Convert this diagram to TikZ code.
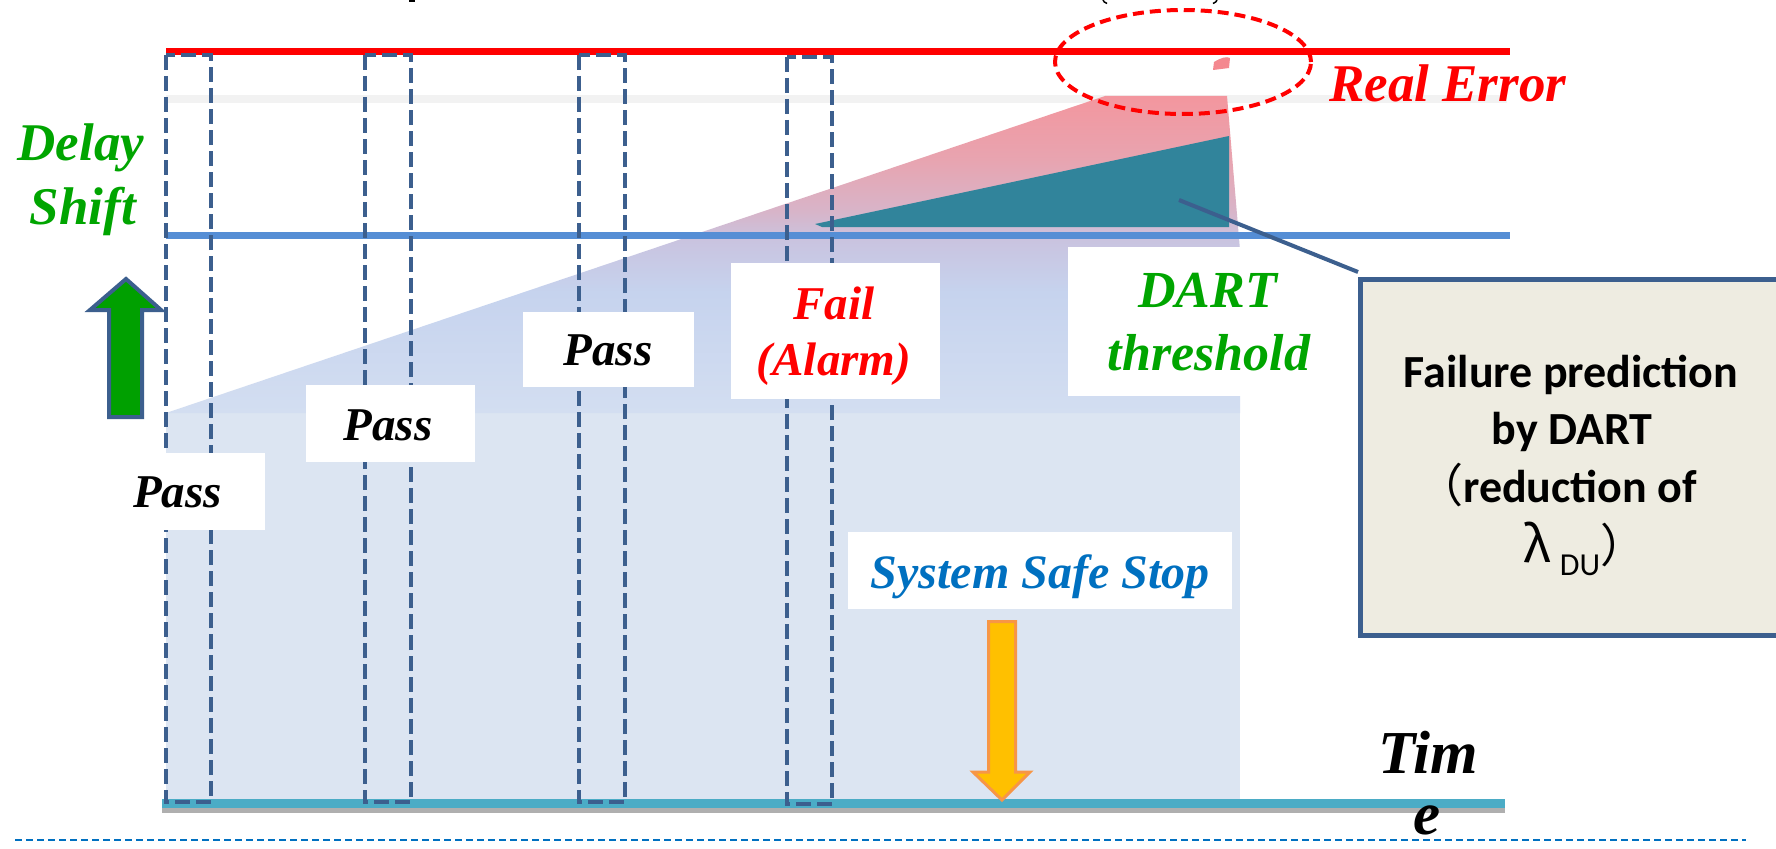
\documentclass[tikz,border=0pt]{standalone}
\usepackage{fontspec}
\setmainfont{Liberation Serif}
\newfontfamily\calfont{Carlito}
\newfontfamily\cjkfont{Noto Sans CJK JP}
\usetikzlibrary{calc}
\definecolor{redline}{RGB}{255,0,0}
\definecolor{greyband}{RGB}{242,242,242}
\definecolor{thrblue}{RGB}{85,142,213}
\definecolor{axisteal}{RGB}{75,172,198}
\definecolor{axisgrey}{RGB}{175,175,175}
\definecolor{dashblue}{RGB}{60,95,142}
\definecolor{txtgreen}{RGB}{0,165,0}
\definecolor{arrgreen}{RGB}{0,160,0}
\definecolor{sssblue}{RGB}{0,112,192}
\definecolor{orfill}{RGB}{255,192,0}
\definecolor{orborder}{RGB}{247,150,70}
\definecolor{boxfill}{RGB}{238,236,225}
\definecolor{tealtri}{RGB}{49,132,155}
\definecolor{lowreg}{RGB}{220,229,242}
\definecolor{pinkblob}{RGB}{244,136,143}
\pgfdeclareverticalshading{wedgeshade}{100bp}{
  color(0bp)=(rgb,255:red,211;green,222;blue,241);
  color(25bp)=(rgb,255:red,211;green,222;blue,241);
  color(44bp)=(rgb,255:red,198;green,211;blue,238);
  color(52bp)=(rgb,255:red,201;green,196;blue,224);
  color(57bp)=(rgb,255:red,216;green,180;blue,200);
  color(65bp)=(rgb,255:red,232;green,164;blue,176);
  color(75bp)=(rgb,255:red,243;green,150;blue,158);
  color(100bp)=(rgb,255:red,243;green,150;blue,158)}
\tikzset{
  lbl/.style={font=\bfseries\itshape\fontsize{47}{56}\selectfont, inner sep=0pt, anchor=base},
  wbox/.style={fill=white, draw=none, inner sep=0pt, outer sep=0pt},
  dbox/.style={draw=dashblue, line width=4pt, dash pattern=on 15pt off 6pt},
  hline/.style={line width=7pt},
  boxtxt/.style={font=\calfont\bfseries\fontsize{46}{56}\selectfont, inner sep=0pt},
  conn/.style={draw=dashblue, line width=4pt},
}
\begin{document}
\begin{tikzpicture}[x=1pt,y=-1pt]
\useasboundingbox (0,0) rectangle (1776,848);
\clip (0,0) rectangle (1776,848);
\fill[white] (0,0) rectangle (1776,848);

% cut-off title fragments
\fill[black] (409,0) rectangle (415,2.5);
\draw[black, line width=1.5pt] (1103,0) .. controls (1104,2) .. (1107,3.5);
\draw[black, line width=1.5pt] (1217,0) .. controls (1216,2) .. (1213,3.5);

% grey band
\draw[greyband, line width=8pt] (166,99) -- (1507,99);

% background regions
\fill[lowreg] (166,413) rectangle (1240,800);
\shade[shading=wedgeshade]
  (166,413) -- (1105,96) -- (1227,96) -- (1240,250) -- (1240,413) -- cycle;

% DART prediction triangle
\fill[tealtri] (815,224) -- (1229,136) -- (1229,227) -- (822,227) -- cycle;
\coordinate (tealpt) at (1179,200);
% small blob
\fill[pinkblob] (1213,70) -- (1214,62) .. controls (1220,58) and (1227,56) .. (1230,58) -- (1229,68) -- cycle;

% horizontal lines
\draw[redline, hline] (166,51.5) -- (1510,51.5);
\draw[thrblue, hline] (166,235.5) -- (1510,235.5);
\draw[axisgrey, line width=5pt] (162,810.5) -- (1505,810.5);
\draw[axisteal, line width=9pt] (162,803.5) -- (1505,803.5);
\draw[sssblue, line width=2.5pt, dash pattern=on 7pt off 4pt] (15,840) -- (1746,840);

% dashed test windows
\draw[dbox] (166,55) rectangle (211,802);
\draw[dbox] (365,55) rectangle (411,802);
\draw[dbox] (579,55) rectangle (625,802);
\draw[dbox] (787,57) rectangle (832,804);

% white label boxes
\node[wbox, minimum width=175pt, minimum height=77pt] (pass1) at (177.5,491.5) {};
\node[wbox, minimum width=169pt, minimum height=77pt] (pass2) at (390.5,423.5) {};
\node[wbox, minimum width=171pt, minimum height=75pt] (pass3) at (608.5,349) {};
\node[wbox, minimum width=209pt, minimum height=136pt] (fail) at (835.5,331) {};
\node[wbox, minimum width=282pt, minimum height=149pt] (dart) at (1209,321.5) {};
\node[wbox, minimum width=384pt, minimum height=77pt] (sss) at (1040,570.5) {};

% labels
\node[lbl] (t-pass1) at (177.5,507) {Pass};
\node[lbl] (t-pass2) at (388,440) {Pass};
\node[lbl] (t-pass3) at (608,365) {Pass};
\node[lbl, text=redline] (t-fail1) at (834,319) {Fail};
\node[lbl, text=redline] (t-fail2) at (834,375) {(Alarm)};
\node[lbl, text=txtgreen, font=\bfseries\itshape\fontsize{52}{60}\selectfont] (t-dart1) at (1207.5,307) {DART};
\node[lbl, text=txtgreen, font=\bfseries\itshape\fontsize{52}{60}\selectfont] (t-dart2) at (1209,370) {threshold};
\node[lbl, text=sssblue, font=\bfseries\itshape\fontsize{48}{56}\selectfont] (t-sss) at (1040,588) {System Safe Stop};
\node[lbl, text=txtgreen, font=\bfseries\itshape\fontsize{53}{60}\selectfont] (t-delay) at (81,160) {Delay};
\node[lbl, text=txtgreen, font=\bfseries\itshape\fontsize{53}{60}\selectfont] (t-shift) at (83,224) {Shift};
\node[lbl, text=redline, font=\bfseries\itshape\fontsize{53}{60}\selectfont, anchor=base west] (t-real) at (1329,102) {Real Error};
\node[lbl, font=\bfseries\itshape\fontsize{61}{70}\selectfont] (t-tim) at (1428,773) {Tim};
\node[lbl, font=\bfseries\itshape\fontsize{61}{70}\selectfont] (t-e) at (1427,834) {e};

% dashed red ellipse
\draw[redline, line width=4pt, dash pattern=on 11pt off 6pt] (1183,62) ellipse [x radius=128pt, y radius=52pt];

% green up arrow
\draw[draw=dashblue, fill=arrgreen, line width=4pt, line join=miter]
  (126,279) -- (161,310) -- (142,310) -- (142,417) -- (109,417) -- (109,310) -- (90,310) -- cycle;

% orange down arrow
\draw[draw=orborder, fill=orfill, line width=3pt, line join=miter]
  (988.5,621.5) -- (1015.5,621.5) -- (1015.5,772) -- (1030,772) -- (1002,800) -- (973,772) -- (988.5,772) -- cycle;

% failure prediction box
\node[draw=dashblue, fill=boxfill, line width=5pt, inner sep=0pt, outer sep=0pt,
      anchor=north west, minimum width=430pt, minimum height=356pt] (fbox) at (1360,279) {};
\node[boxtxt, anchor=base] (f1) at (1571,387) {Failure prediction};
\node[boxtxt, anchor=base] (f2) at (1572,444) {by DART};
\node[boxtxt, anchor=base west] (f3) at (1417,502) {{\cjkfont\mdseries （}reduction of};
\node[boxtxt, anchor=base west] (f4) at (1523,562) {{\cjkfont\mdseries\fontsize{50}{56}\selectfont λ}\hspace{9pt}\raisebox{-13pt}{\mdseries\fontsize{32}{32}\selectfont DU}{\cjkfont\mdseries ）}};

% connector
\draw[conn] (tealpt) -- ($(fbox.north west)+(-2,-7)$);
\end{tikzpicture}
\end{document}
